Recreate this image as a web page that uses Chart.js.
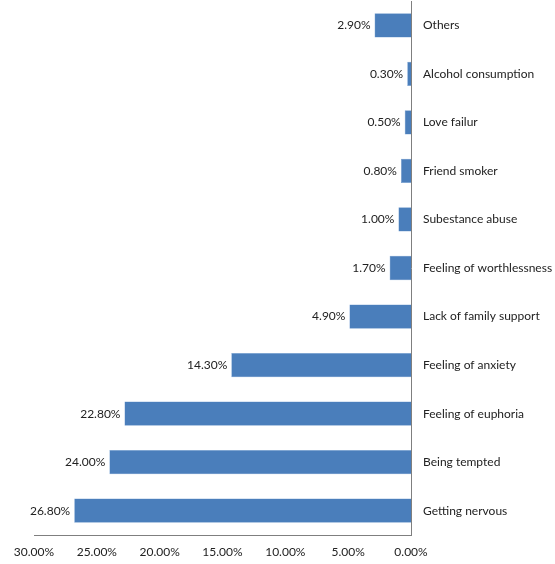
<!DOCTYPE html>
<html>
<head>
<meta charset="utf-8">
<script src="https://cdn.jsdelivr.net/npm/chart.js@4.4.1/dist/chart.umd.min.js"></script>
<style>
  html, body { margin: 0; padding: 0; background: #fff; }
  #wrap { width: 555px; height: 564px; position: relative; }
</style>
</head>
<body>
<div id="wrap"><canvas id="reasonsChart"></canvas></div>
<script>
const categories = [
    'Others', 'Alcohol consumption', 'Love failur', 'Friend smoker',
    'Subestance abuse', 'Feeling of worthlessness', 'Lack of family support',
    'Feeling of anxiety', 'Feeling of euphoria', 'Being tempted', 'Getting nervous'
];
const percentages = [2.9, 0.3, 0.5, 0.8, 1.0, 1.7, 4.9, 14.3, 22.8, 24.0, 26.8];
const xTicks = [0, 5, 10, 15, 20, 25, 30];

const fontFamily = 'Lato, "Open Sans", sans-serif';

// value labels just left of each bar end
const barLabels = {
    id: 'barLabels',
    afterDatasetsDraw(chart) {
        const c = chart.ctx;
        const meta = chart.getDatasetMeta(0);
        c.save();
        c.font = '12px ' + fontFamily;
        c.fillStyle = '#222';
        c.textAlign = 'right';
        c.textBaseline = 'middle';
        meta.data.forEach((bar, i) => {
            c.fillText(percentages[i].toFixed(2) + '%', bar.x - 4, bar.y);
        });
        c.restore();
    }
};

const ctx = document.getElementById('reasonsChart').getContext('2d');
const reasonsChart = new Chart(ctx, {
    type: 'bar',
    data: {
        labels: categories,
        datasets: [{
            data: percentages,
            backgroundColor: '#4a7ebb',
            borderColor: '#6f9bd0',
            borderWidth: 0.5,
            categoryPercentage: 1,
            barPercentage: 0.5
        }]
    },
    options: {
        indexAxis: 'y',
        responsive: true,
        maintainAspectRatio: false,
        animation: false,
        layout: { padding: { left: 34, top: 1, right: 0, bottom: 0 } },
        scales: {
            x: {
                reverse: true,
                min: 0,
                max: 30,
                afterBuildTicks: (axis) => { axis.ticks = xTicks.map(v => ({ value: v })); },
                afterFit: (axis) => {
                    axis.height = 29;
                    axis.paddingLeft = 0;
                    axis.paddingRight = 0;
                },
                grid: { display: false },
                border: { display: true, color: '#7f7f7f', width: 1 },
                ticks: {
                    color: '#222',
                    padding: 2,
                    maxRotation: 0,
                    font: { family: fontFamily, size: 12 },
                    callback: (v) => Number(v).toFixed(2) + '%'
                }
            },
            y: {
                position: 'right',
                afterFit: (axis) => {
                    axis.width = 144;
                    axis.paddingTop = 0;
                    axis.paddingBottom = 0;
                },
                grid: { display: false },
                border: { display: true, color: '#7f7f7f', width: 1 },
                ticks: {
                    color: '#222',
                    padding: 4,
                    font: { family: fontFamily, size: 12 }
                }
            }
        },
        plugins: {
            legend: { display: false },
            tooltip: { enabled: false }
        }
    },
    plugins: [barLabels]
});
</script>
</body>
</html>
